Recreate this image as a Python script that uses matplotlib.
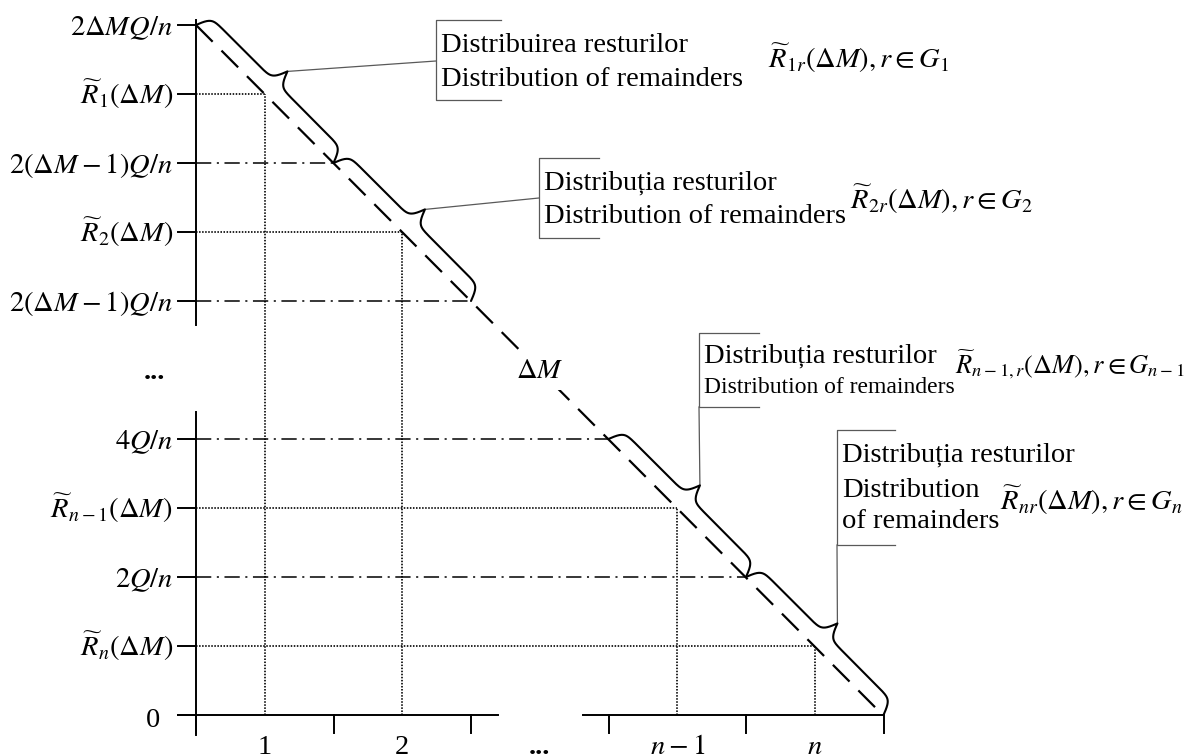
import numpy as np
import matplotlib.pyplot as plt

plt.rcParams['font.family'] = ['Liberation Serif', 'DejaVu Serif']
plt.rcParams['mathtext.fontset'] = 'stix'
plt.rcParams['lines.scale_dashes'] = False

# ---- diagram data (levels in half-steps of Q/n, columns in half-steps) ----
y_levels = [10, 9, 8, 7, 6, 4, 3, 2, 1, 0]
y_labels = [r'$2\Delta MQ/n$', r'$\widetilde{R}_1(\Delta M)$', r'$2(\Delta M-1)Q/n$',
            r'$\widetilde{R}_2(\Delta M)$', r'$2(\Delta M-1)Q/n$', r'$4Q/n$',
            r'$\widetilde{R}_{n-1}(\Delta M)$', r'$2Q/n$', r'$\widetilde{R}_n(\Delta M)$', '0']
x_ticks = [0, 2, 4, 6, 8, 10]
x_label_pos = [1, 3, 5, 7, 9]
x_labels = ['1', '2', '...', r'$n-1$', r'$n$']
rem_levels = [9, 7, 3, 1]        # remainders R~_i, dotted guides
step_levels = [8, 6, 4, 2]       # 2kQ/n, dash-dot guides
brace_spans = [(10, 8), (8, 6), (4, 2), (2, 0)]
top = 10

ann_lines = [['Distribuirea resturilor', 'Distribution of remainders'],
             ['Distribuția resturilor', 'Distribution of remainders'],
             ['Distribuția resturilor', 'Distribution of remainders'],
             ['Distribuția resturilor', 'Distribution', 'of remainders']]
ann_math = [r'$\widetilde{R}_{1r}(\Delta M), r\in G_1$',
            r'$\widetilde{R}_{2r}(\Delta M), r\in G_2$',
            r'$\widetilde{R}_{n-1,r}(\Delta M), r\in G_{n-1}$',
            r'$\widetilde{R}_{nr}(\Delta M), r\in G_n$']

# pixel scale of one unit
SX, SY = 68.75, 69.0
X0, Y0 = 196, 715


def P(px, py):
    return (px - X0) / SX, (Y0 - py) / SY


def brace(ax, ya, yb, h=32.0, beta=0.32):
    p0 = np.array([(top - ya) * SX, ya * SY])
    p1 = np.array([(top - yb) * SX, yb * SY])
    L = np.linalg.norm(p1 - p0)
    d = (p1 - p0) / L
    nrm = np.array([-d[1], d[0]])
    u = np.linspace(0, L / 2, 300)
    v = h * (1 / (1 + np.exp(-beta * u)) + 1 / (1 + np.exp(-beta * (u - L / 2)))) - 0.5 * h
    uu = np.concatenate([u, L - u[::-1]])
    vv = np.concatenate([v, v[::-1]])
    pts = p0 + np.outer(uu, d) + np.outer(vv, nrm)
    ax.plot(pts[:, 0] / SX, pts[:, 1] / SY, color='black', lw=1.5,
            solid_capstyle='round', zorder=4)
    tip = p0 + d * L / 2 + nrm * h
    return tip[0] / SX, tip[1] / SY


fig = plt.figure(figsize=(11.89, 7.55), dpi=100)
ax = fig.add_axes([0, 0, 1, 1])
ax.set_xlim(-X0 / SX, (1189 - X0) / SX)
ax.set_ylim((Y0 - 755) / SY, Y0 / SY)
ax.axis('off')

fs = 20.5
k = dict(color='black', lw=1.4)

# axes (broken)
ax.plot(*zip(P(196, 20), P(196, 325)), **k)
ax.plot(*zip(P(196, 412), P(196, 735)), **k)
ax.plot(*zip(P(178, 715), P(498, 715)), **k)
ax.plot(*zip(P(583, 715), P(883, 715)), **k)

# y ticks and labels
for lv, lab in zip(y_levels, y_labels):
    ax.plot([-18 / SX, 0], [lv, lv], **k)
    if lab == '0':
        ax.text(*P(160, 727), lab, ha='right', va='baseline', fontsize=fs)
    else:
        ax.text(-23 / SX, lv - 10 / SY, lab, ha='right', va='baseline', fontsize=fs)
ax.text(*P(154, 379), '...', ha='center', va='baseline', fontsize=fs, fontweight='bold')

# x ticks and labels
for xt in x_ticks:
    ax.plot([xt, xt], [0, -18 / SY], **k)
for xp, lab in zip(x_label_pos, x_labels):
    if lab == '...':
        ax.text(xp, -39 / SY, lab, ha='center', va='baseline', fontsize=fs,
                fontweight='bold')
    else:
        ax.text(xp, -20 / SY, lab, ha='center', va='top', fontsize=fs)

# dotted guides to remainders
for r in rem_levels:
    xr = top - r
    ax.plot([0, xr], [r, r], color='black', lw=1.2, dashes=(1.1, 1.1))
    ax.plot([xr, xr], [0, r], color='black', lw=1.2, dashes=(1.1, 1.1))

# dash-dot guides
for s in step_levels:
    ax.plot([0, top - s], [s, s], color='black', lw=1.1, dashes=(11, 4, 1.5, 4))

# main diagonal
ax.plot([0, 9.92], [top, 0.07], color='black', lw=1.6, dashes=(17, 9))
ax.text(*P(540, 372), r'$\Delta M$', ha='center', va='center', fontsize=fs,
        bbox=dict(facecolor='white', edgecolor='none', pad=4), zorder=5)

# braces
tips = [brace(ax, a, b) for a, b in brace_spans]

# annotation boxes: (box x, top, bottom, tick end)
gray = '0.35'
boxes = [(436, 20, 100, 501), (539, 158, 238, 599), (699, 333, 407, 759), (837, 430, 545, 895)]
leader_end = [P(436, 61), P(539, 198), P(699, 407), P(837, 545)]
line_y = [[52, 86], [190, 223], [363, 393], [462, 497, 528]]
line_fs = [[fs, fs], [fs, fs], [fs, 17], [fs, fs, fs]]
math_xy = [(768, 68), (850, 209), (955, 373), (1000, 510)]
math_fs = [fs, fs, 19, fs]

for i in range(4):
    bx, bt, bb, be = boxes[i]
    ax.plot([tips[i][0], leader_end[i][0]], [tips[i][1], leader_end[i][1]],
            color=gray, lw=0.9)
    xs, ys = zip(P(be, bt), P(bx, bt), P(bx, bb), P(be, bb))
    ax.plot(xs, ys, color=gray, lw=0.9)
    for txt, ty, tf in zip(ann_lines[i], line_y[i], line_fs[i]):
        ax.text(*P(bx + 5, ty), txt, ha='left', va='baseline', fontsize=tf)
    ax.text(*P(*math_xy[i]), ann_math[i], ha='left', va='baseline', fontsize=math_fs[i])

fig.savefig('out.png', dpi=100)
